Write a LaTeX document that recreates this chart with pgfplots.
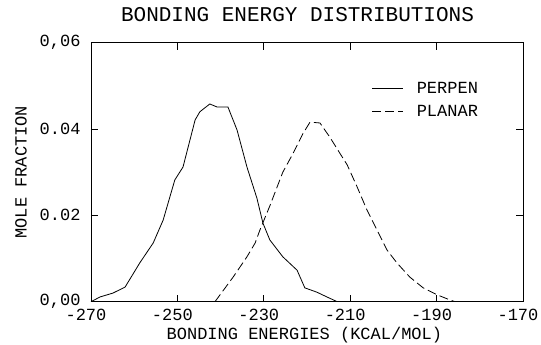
\documentclass[border=0pt]{standalone}
\usepackage{pgfplots}
\pgfplotsset{compat=1.18}
\usepackage{fontspec}
\setmainfont{Liberation Mono}
\begin{document}
\begin{tikzpicture}
\begin{axis}[
  scale only axis, width=432pt, height=259pt,
  xmin=-270, xmax=-170, ymin=0, ymax=0.06,
  scaled y ticks=false, scaled x ticks=false,
  axis line style={line width=0.8pt},
  xtick={-270,-250,-230,-210,-190,-170},
  xticklabels={-270,-250,-230,-210,-190,-170},
  ytick={0,0.02,0.04,0.06},
  yticklabels={{0,00},{0.02},{0.04},{0,06}},
  tick align=inside, major tick length=7pt,
  tick style={line width=0.8pt, black},
  ticklabel style={font=\fontsize{17}{17}\selectfont},
  xticklabel style={yshift=-4pt, xshift=-5pt},
  yticklabel style={xshift=-7pt},
  /pgf/number format/assume math mode=true,
  title={BONDING ENERGY DISTRIBUTIONS},
  title style={font=\fontsize{21}{21}\selectfont, at={(axis description cs:0.478,1)}, anchor=base, yshift=14.7pt},
  xlabel={BONDING ENERGIES (KCAL/MOL)},
  xlabel style={font=\fontsize{17}{17}\selectfont, at={(axis description cs:0.494,-0.1286)}, anchor=center},
  ylabel={MOLE FRACTION},
  ylabel style={font=\fontsize{17}{17}\selectfont, at={(axis description cs:-0.162,0.5)}, anchor=center},
  legend style={at={(axis description cs:0.65,0.855)}, anchor=north west, draw=none, fill=none,
    font=\fontsize{17}{17}\selectfont, row sep=6pt, inner sep=0pt},
  legend cell align=left,
  legend image code/.code={\draw[#1] (0pt,0pt) -- (31pt,0pt); \path (42pt,0pt);},
]
\addplot[black, line width=0.8pt] coordinates {
(-270,0) (-267.9,0.0011) (-264.9,0.0020) (-262.1,0.0034) (-258.7,0.0090)
(-255.6,0.0136) (-253.3,0.0189) (-250.6,0.0282) (-248.7,0.0312) (-245.9,0.0421)
(-244.8,0.0440) (-242.5,0.0458) (-240.8,0.0451) (-238.3,0.0451) (-236.2,0.0398)
(-233.9,0.0312) (-231.6,0.0240) (-230.2,0.0182) (-228.6,0.0143) (-225.6,0.0104)
(-222.3,0.0073) (-220.5,0.0032) (-217.7,0.0022) (-215.4,0.0011) (-213,0)
};
\addlegendentry{PERPEN}
\addplot[black, line width=0.8pt, dash pattern=on 9pt off 4pt] coordinates {
(-241.3,0) (-237.1,0.0057) (-233.9,0.0104) (-232.0,0.0136) (-230.9,0.0166)
(-228.6,0.0222) (-225.6,0.0300) (-223.2,0.0344) (-220.9,0.0390) (-219.3,0.0416)
(-217.0,0.0414) (-214.7,0.0381) (-212.4,0.0344) (-210.7,0.0317) (-208.4,0.0266)
(-206.1,0.0212) (-203.8,0.0166) (-201.5,0.0120) (-199.2,0.0090) (-196.2,0.0057)
(-193.1,0.0032) (-189.9,0.0016) (-186.9,0.0004) (-185.7,0)
};
\addlegendentry{PLANAR}
\coordinate (sw) at (rel axis cs:0,0);
\coordinate (ne) at (rel axis cs:1,1);
\end{axis}
\pgfresetboundingbox
\path[use as bounding box] ([xshift=-91pt,yshift=-43.3pt]sw) rectangle ([xshift=18pt,yshift=42.7pt]ne);
\end{tikzpicture}
\end{document}
